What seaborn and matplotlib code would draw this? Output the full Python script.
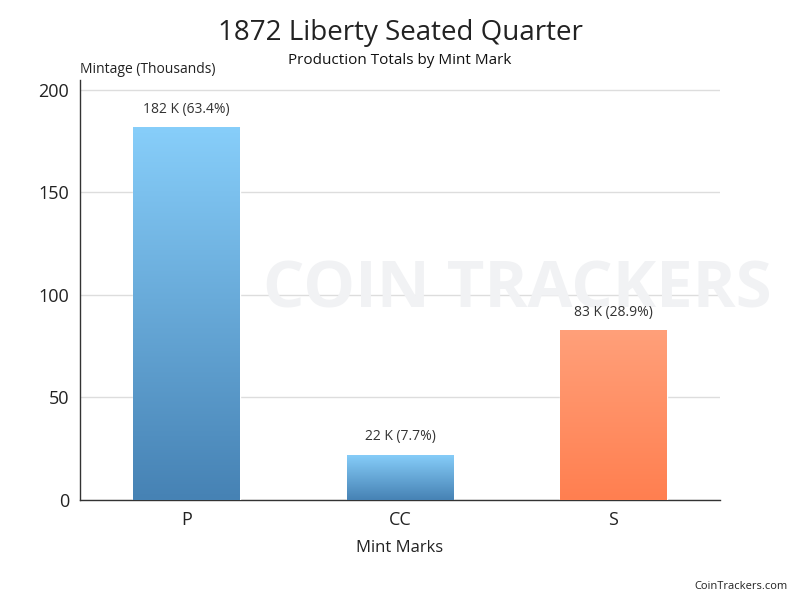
import numpy as np
import pandas as pd
import matplotlib
matplotlib.use('Agg')
import matplotlib.pyplot as plt
import matplotlib.colors as mcolors
import seaborn as sns

# data
mints = ['P', 'CC', 'S']
mintage = [182, 22, 83]          # thousands
labels = ['182 K (63.4%)', '22 K (7.7%)', '83 K (28.9%)']
top_colors = ['#87CEFA', '#87CEFA', '#FFA07A']
bottom_colors = ['#4682B4', '#4682B4', '#FF7F50']

df = pd.DataFrame({'Mint': mints, 'Mintage': mintage})

sns.set_theme(style='white')
plt.rcParams['font.family'] = ['Open Sans', 'DejaVu Sans']

fig = plt.figure(figsize=(8, 6), dpi=100)
ax = fig.add_axes([0.1, 0.167, 0.8, 0.70])

sns.barplot(data=df, x='Mint', y='Mintage', hue='Mint', palette=top_colors,
            width=0.5, legend=False, ax=ax, zorder=3)

# gradient fills clipped to each bar
for bar, c_top, c_bot, txt in zip(ax.patches, top_colors, bottom_colors, labels):
    x0, y0 = bar.get_x(), bar.get_y()
    w, h = bar.get_width(), bar.get_height()
    cmap = mcolors.LinearSegmentedColormap.from_list('g', [c_bot, c_top])
    grad = np.linspace(0, 1, 256).reshape(-1, 1)
    im = ax.imshow(grad, cmap=cmap, aspect='auto', origin='lower',
                   extent=[x0, x0 + w, y0, y0 + h], zorder=4)
    im.set_clip_path(bar)
    ax.text(x0 + w / 2, h + 5, txt, ha='center', va='bottom',
            fontsize=10, color='#333333', zorder=5)

ax.set_aspect('auto')
ax.set_xlim(-0.5, 2.5)
ax.set_ylim(0, 205)

# watermark
ax.text(1.55, 102, 'COIN TRACKERS', ha='center', va='center', fontsize=47,
        fontweight='bold', color='#f1f2f4', zorder=1, clip_on=False)

ax.set_yticks([0, 50, 100, 150, 200])
ax.yaxis.grid(True, color='#dddddd', linewidth=1, zorder=0)
ax.xaxis.grid(False)
ax.tick_params(axis='both', labelsize=13, colors='#222222', length=0, pad=8)
for s in ['top', 'right']:
    ax.spines[s].set_visible(False)
for s in ['left', 'bottom']:
    ax.spines[s].set_color('#333333')
    ax.spines[s].set_linewidth(1)

ax.set_xlabel('Mint Marks', fontsize=12, color='#222222', labelpad=8)
ax.set_ylabel('')
fig.text(0.1, 0.872, 'Mintage (Thousands)', fontsize=10, color='#222222',
         ha='left', va='bottom')

fig.text(0.5, 0.945, '1872 Liberty Seated Quarter', fontsize=20,
         color='#222222', ha='center', va='center')
fig.text(0.5, 0.9, 'Production Totals by Mint Mark', fontsize=11,
         color='#111111', ha='center', va='center')
fig.text(0.985, 0.022, 'CoinTrackers.com', fontsize=8, color='#222222',
         ha='right', va='center')

fig.savefig('out.png', dpi=100)
